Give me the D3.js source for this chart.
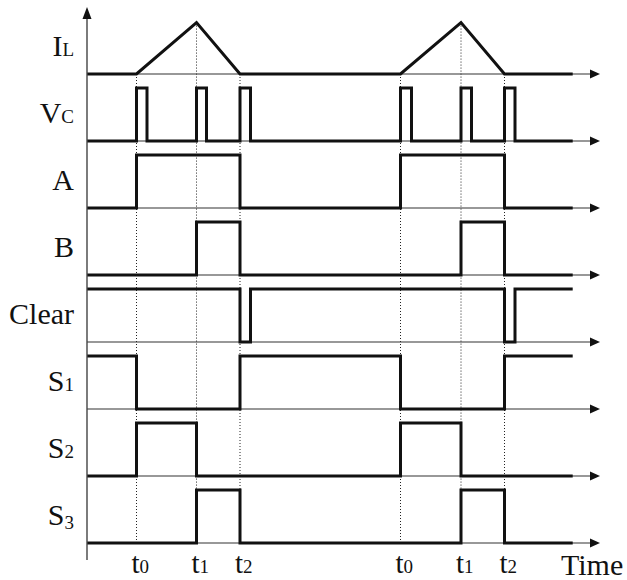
<!DOCTYPE html>
<html><head><meta charset="utf-8">
<script src="https://cdn.jsdelivr.net/npm/d3@7/dist/d3.min.js"></script>
<style>body{margin:0;background:#fff}</style>
</head><body><script>
const width = 627, height = 580;

// switching instants (time units) and their labels
const edgeTimes  = [4.95, 10.95, 15.3, 31.35, 37.4, 41.75];
const edgeDigits = ["0", "1", "2", "0", "1", "2"];
const endTime = 48.57, arrowTime = 51.3;

// row labels: main text + small suffix
const rowNames = ["I", "V", "A", "B", "Clear", "S", "S", "S"];
const rowSubs  = ["L", "C", "", "", "", "1", "2", "3"];

// waveforms as [time, level] points (level 0 = low, 1 = high)
const ilWave    = [[0,0],[4.95,0],[10.95,0.97],[15.3,0],[31.35,0],[37.4,0.97],[41.75,0],[48.57,0]];
const vcWave    = [[0,0],[4.95,1],[6.0,0],[10.95,1],[11.95,0],[15.3,1],[16.35,0],[31.35,1],[32.45,0],[37.4,1],[38.45,0],[41.75,1],[42.8,0],[48.57,0]];
const aWave     = [[0,0],[4.95,1],[15.3,0],[31.35,1],[41.75,0],[48.57,0]];
const bWave     = [[0,0],[10.95,1],[15.3,0],[37.4,1],[41.75,0],[48.57,0]];
const clearWave = [[0,1],[15.3,0],[16.35,1],[41.75,0],[42.8,1],[48.57,1]];
const s1Wave    = [[0,1],[4.95,0],[15.3,1],[31.35,0],[41.75,1],[48.57,1]];
const s2Wave    = [[0,0],[4.95,1],[10.95,0],[31.35,1],[37.4,0],[48.57,0]];
const s3Wave    = [[0,0],[10.95,1],[15.3,0],[37.4,1],[41.75,0],[48.57,0]];
const stepWaves = [vcWave, aWave, bWave, clearWave, s1Wave, s2Wave, s3Wave];

const x = d3.scaleLinear().domain([0, 52]).range([87, 607]);
const rowBase = d3.scaleLinear().domain([0, 7]).range([74, 543]);
const amp = 53;
const yOf = (row, lvl) => rowBase(row) - lvl * amp;

const svg = d3.select("body").append("svg")
  .attr("width", width).attr("height", height)
  .style("font-family", "'Liberation Serif', serif");

// dotted guides at each switching instant
const ilAt = t => {
  for (let i = 1; i < ilWave.length; i++) {
    const [t0, v0] = ilWave[i-1], [t1, v1] = ilWave[i];
    if (t >= t0 && t <= t1) return v0 + (v1 - v0) * (t - t0) / (t1 - t0);
  }
  return 0;
};
svg.append("g").selectAll("line").data(edgeTimes).join("line")
  .attr("x1", d => x(d)).attr("x2", d => x(d))
  .attr("y1", d => yOf(0, ilAt(d))).attr("y2", rowBase(7))
  .attr("stroke", "#222").attr("stroke-width", 1)
  .attr("stroke-dasharray", "1,2");

// thin baselines with arrowheads
const rows = d3.range(8);
svg.append("g").selectAll("line").data(rows).join("line")
  .attr("x1", x(0)).attr("x2", x(arrowTime) - 6)
  .attr("y1", d => rowBase(d)).attr("y2", d => rowBase(d))
  .attr("stroke", "#333").attr("stroke-width", 1.2);
svg.append("g").selectAll("path").data(rows).join("path")
  .attr("d", d => {
    const tx = x(arrowTime), y = rowBase(d);
    return `M${tx},${y}L${tx-10},${y-4.5}L${tx-10},${y+4.5}Z`;
  })
  .attr("fill", "#111");

// waveforms
const stepLine = row => d3.line().x(d => x(d[0])).y(d => yOf(row, d[1])).curve(d3.curveStepAfter);
const linLine = row => d3.line().x(d => x(d[0])).y(d => yOf(row, d[1]));
svg.append("path").attr("d", linLine(0)(ilWave))
  .attr("fill", "none").attr("stroke", "#111").attr("stroke-width", 3)
  .attr("stroke-linejoin", "miter");
stepWaves.forEach((w, i) => {
  svg.append("path").attr("d", stepLine(i + 1)(w))
    .attr("fill", "none").attr("stroke", "#111").attr("stroke-width", 3)
    .attr("stroke-linejoin", "miter");
});

// vertical axis with arrow
svg.append("line").attr("x1", x(0)).attr("x2", x(0))
  .attr("y1", 16).attr("y2", 560)
  .attr("stroke", "#444").attr("stroke-width", 1.4);
svg.append("path").attr("d", `M${x(0)},7L${x(0)-4.5},19L${x(0)+4.5},19Z`).attr("fill", "#111");

// row labels
rows.forEach(i => {
  const t = svg.append("text").attr("x", 74).attr("y", rowBase(i) - 18)
    .attr("text-anchor", "end").attr("font-size", 30).attr("fill", "#111");
  t.append("tspan").text(rowNames[i]);
  if (rowSubs[i]) {
    const sub = t.append("tspan").text(rowSubs[i]).attr("font-size", 19);
    if (rowSubs[i] === "3") sub.attr("dy", 4);
  }
});

// time labels
edgeTimes.forEach((d, i) => {
  const t = svg.append("text").attr("x", x(d) - 5).attr("y", 573)
    .attr("font-size", 29).attr("fill", "#111");
  t.append("tspan").text("t");
  t.append("tspan").text(edgeDigits[i]).attr("font-size", 19);
});
svg.append("text").attr("x", 561).attr("y", 575)
  .attr("font-size", 30).attr("fill", "#111").text("Time");
</script></body></html>
